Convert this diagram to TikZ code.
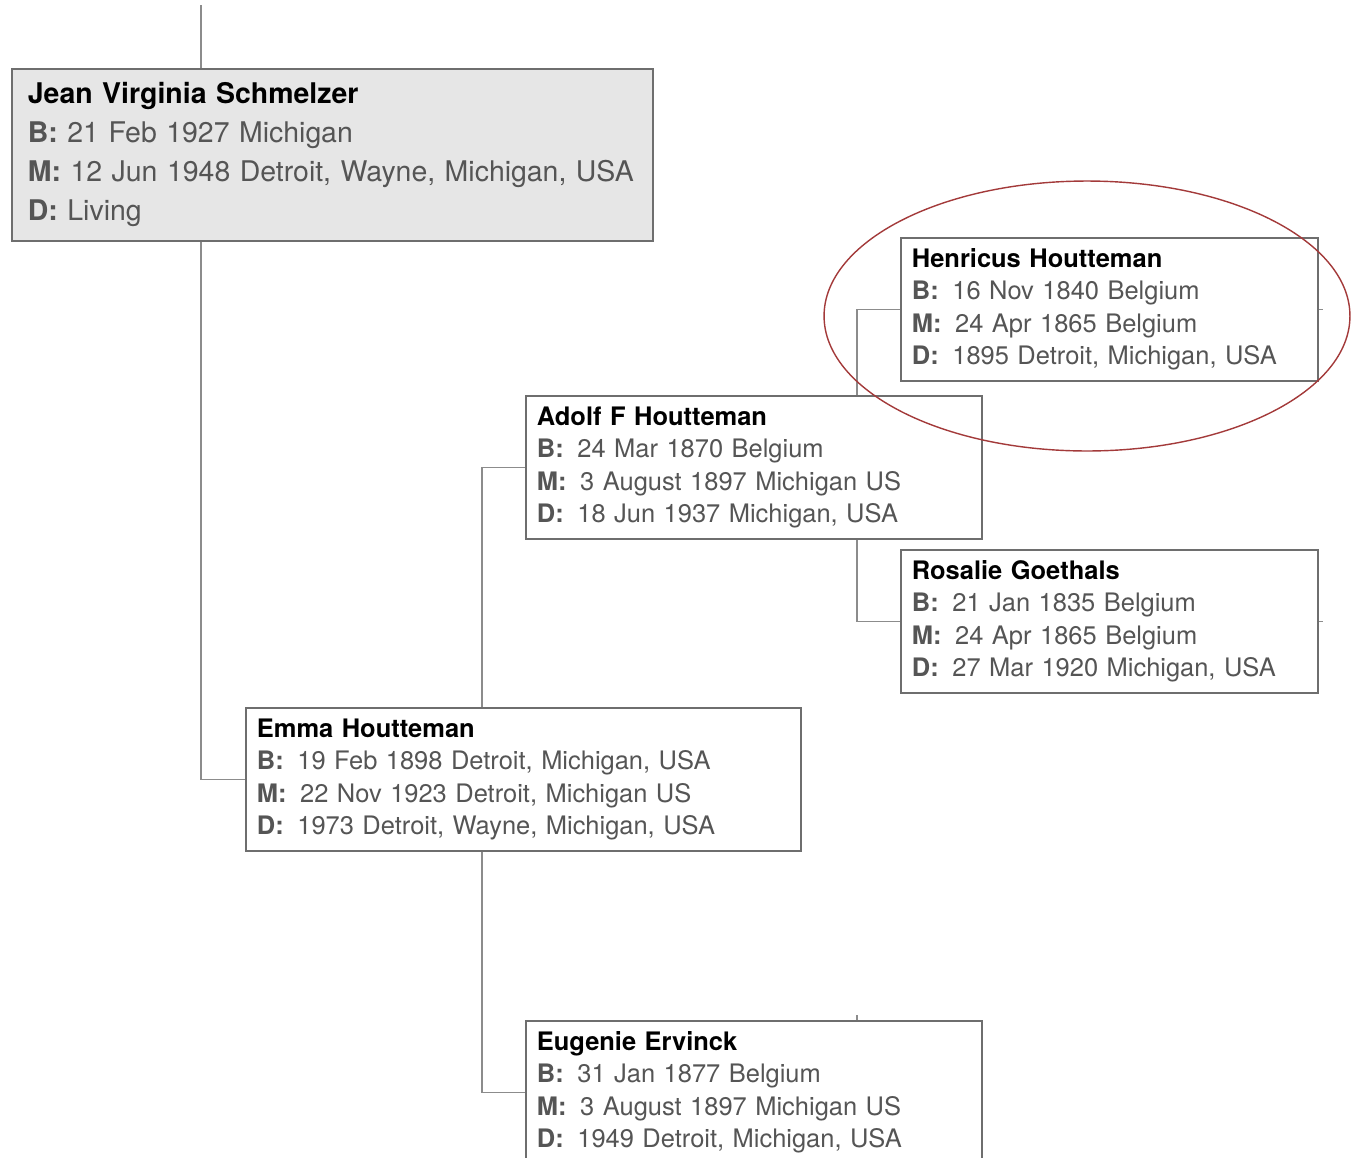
\documentclass[tikz,border=0pt]{standalone}
\usepackage{fontspec}
\setmainfont{TeX Gyre Heros}
\definecolor{boxline}{HTML}{6E6E6E}
\definecolor{linkline}{HTML}{8C8C8C}
\definecolor{infotext}{HTML}{555555}
\definecolor{selfill}{HTML}{E6E6E6}
\definecolor{ringred}{HTML}{A33A3A}
\tikzstyle{person} = [rectangle, draw=boxline, line width=1pt, anchor=north west, align=left, inner xsep=0.22cm, inner ysep=0pt, minimum height=2.86cm, text=infotext, font=\fontsize{14.5}{18.5}\selectfont]
\tikzstyle{self} = [fill=selfill, inner xsep=0.32cm, minimum height=3.44cm, font=\fontsize{16.2}{22.2}\selectfont]
\tikzstyle{link} = [draw=linkline, line width=0.75pt]
\tikzstyle{ring} = [draw=ringred, line width=0.8pt]
\newcommand{\personInfo}[4]
{
    {\color{black}\textbf{#1}}\\
    \textbf{B:}\hspace{0.2em} #2\\
    \textbf{M:}\hspace{0.2em} #3\\
    \textbf{D:}\hspace{0.2em} #4
}
\begin{document}
\begin{tikzpicture}[x=0.02cm, y=-0.02cm]
\useasboundingbox (0,0) rectangle (1352,1157);

\node (jean) [person, self, text width=12.18cm] at (11,68) {{\color{black}\textbf{Jean Virginia Schmelzer}}\\ \textbf{B:} 21 Feb 1927 Michigan\\ \textbf{M:} 12 Jun 1948 Detroit, Wayne, Michigan, USA\\ \textbf{D:} Living};
\node (henricus) [person, text width=7.9cm] at (900,237) {\personInfo{Henricus Houtteman}{16 Nov 1840 Belgium}{24 Apr 1865 Belgium}{1895 Detroit, Michigan, USA}};
\node (adolf) [person, text width=8.68cm] at (525,395) {\personInfo{Adolf F Houtteman}{24 Mar 1870 Belgium}{3 August 1897 Michigan US}{18 Jun 1937 Michigan, USA}};
\node (rosalie) [person, text width=7.9cm] at (900,549) {\personInfo{Rosalie Goethals}{21 Jan 1835 Belgium}{24 Apr 1865 Belgium}{27 Mar 1920 Michigan, USA}};
\node (emma) [person, text width=10.66cm] at (245,707) {\personInfo{Emma Houtteman}{19 Feb 1898 Detroit, Michigan, USA}{22 Nov 1923 Detroit, Michigan US}{1973 Detroit, Wayne, Michigan, USA}};
\node (eugenie) [person, text width=8.68cm] at (525,1020) {\personInfo{Eugenie Ervinck}{31 Jan 1877 Belgium}{3 August 1897 Michigan US}{1949 Detroit, Michigan, USA}};

\coordinate (jeanFork) at (201,5);
\coordinate (emmaFork) at (482,0);
\coordinate (adolfFork) at (857,0);

\draw [link] (jeanFork) -- (jeanFork |- jean.north);
\draw [link] (jeanFork |- jean.south) |- (emma.west);
\draw [link] (emmaFork |- emma.north) |- (adolf.west);
\draw [link] (emmaFork |- emma.south) |- (eugenie.west);
\draw [link] (adolfFork |- adolf.north) |- (henricus.west);
\draw [link] (adolfFork |- adolf.south) |- (rosalie.west);

\draw [link] (henricus.east) -- ++(4,0);
\draw [link] (rosalie.east) -- ++(4,0);
\draw [link] (adolfFork |- eugenie.north) -- ++(0,-5);

\draw [ring] (1087,316) ellipse [x radius=5.26cm, y radius=2.7cm];

\end{tikzpicture}
\end{document}
